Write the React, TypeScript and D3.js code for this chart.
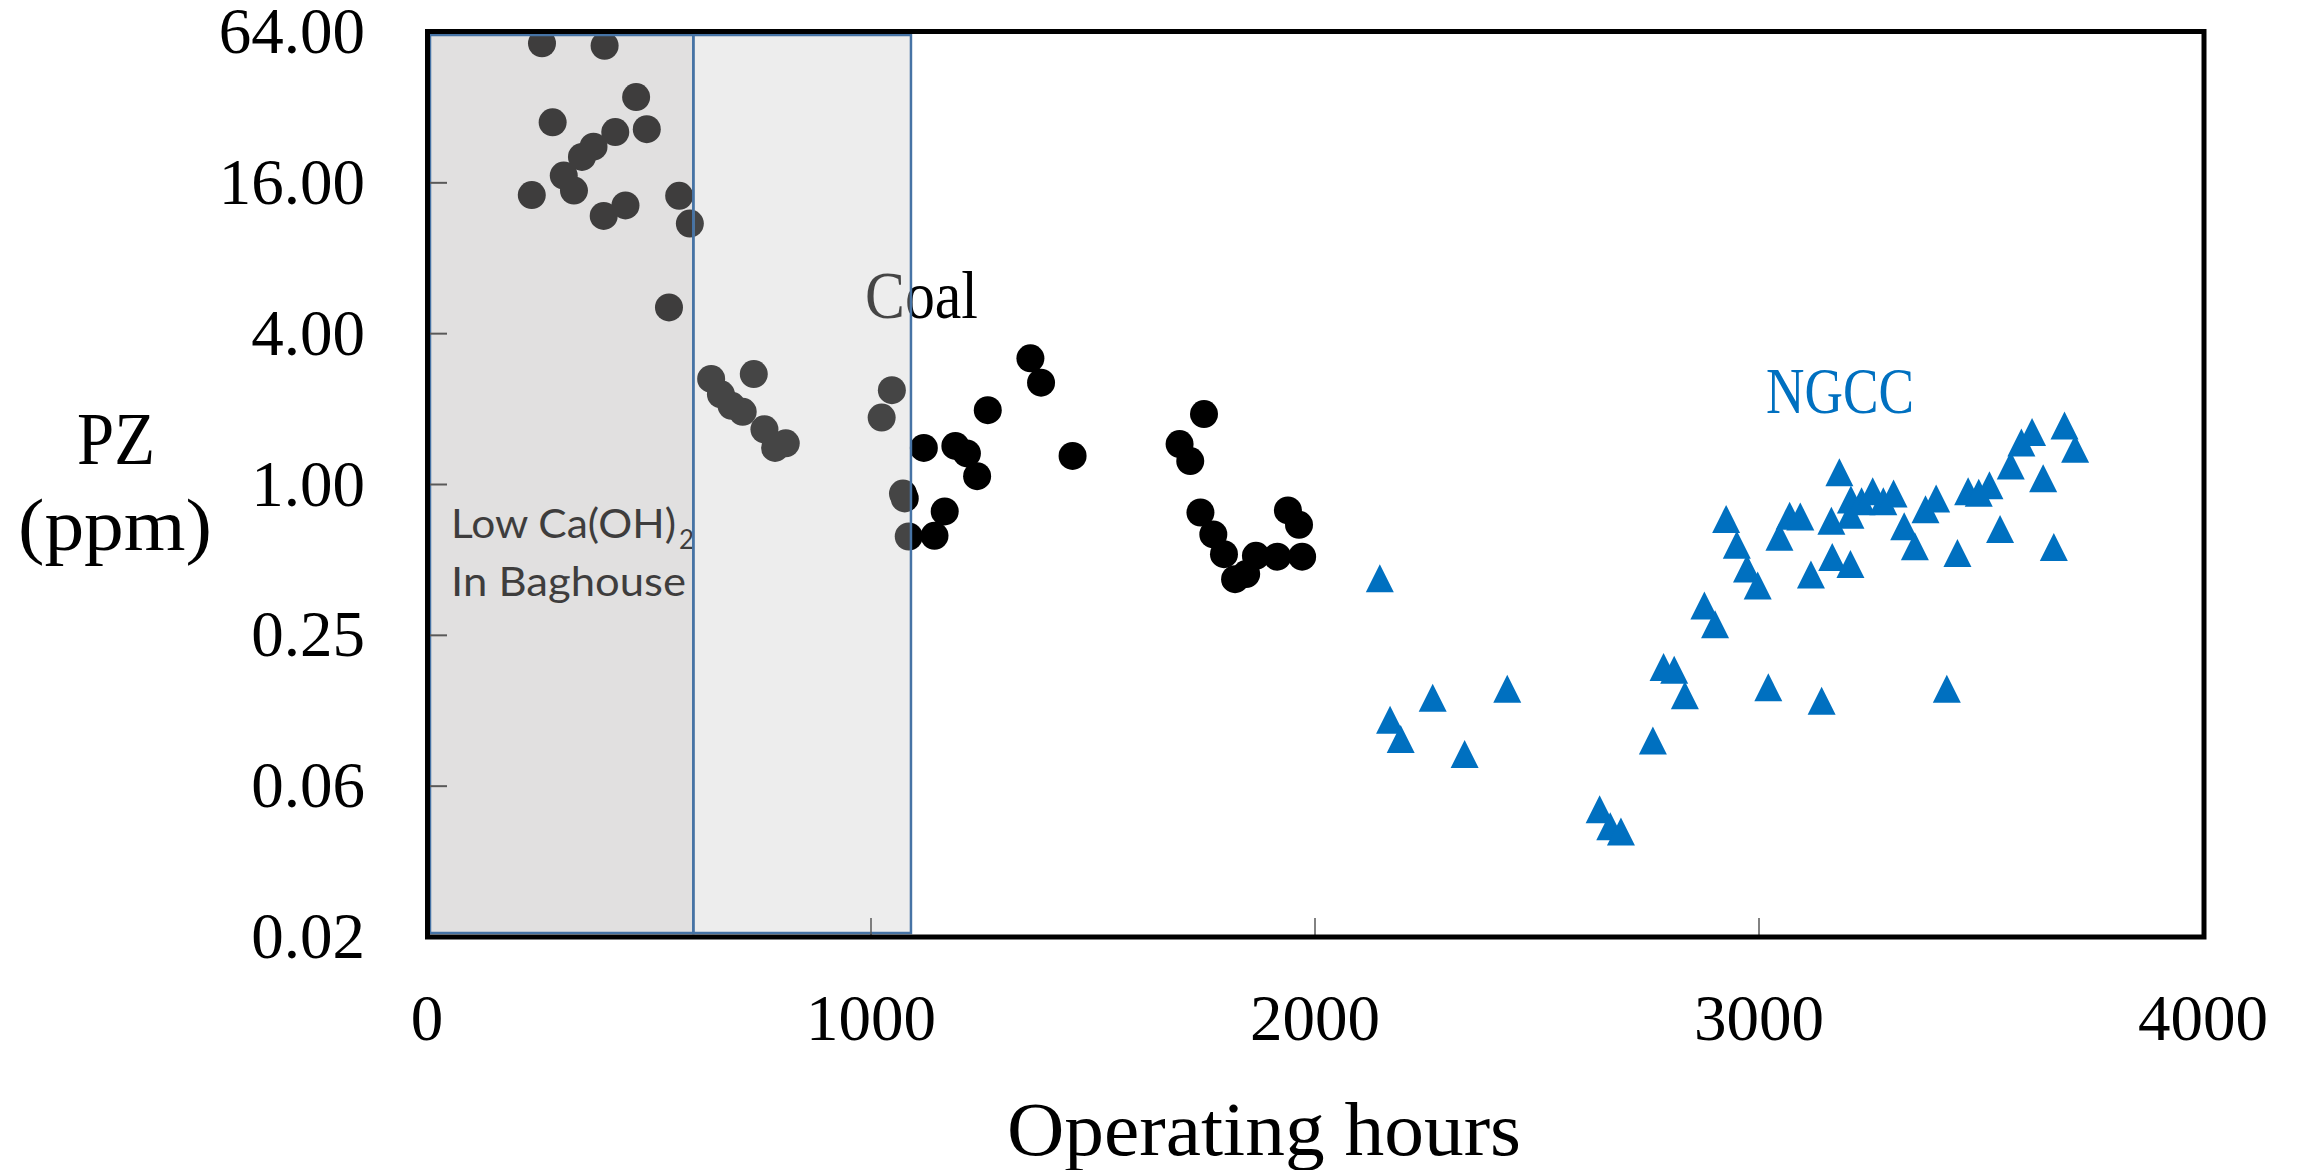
import React from "react";
import * as d3 from "d3";

// Piperazine (PZ) emissions, ppm, against cumulative operating hours
const coalHours = [
  236, 259, 283, 308, 331, 349, 375, 398, 400, 424, 447, 471, 495, 545, 568, 592,
  640, 662, 686, 711, 736, 760, 784, 808, 1024, 1047, 1072, 1076, 1085,
  1119, 1143, 1166, 1190, 1216, 1239, 1263, 1359, 1383, 1454,
  1695, 1719, 1742, 1750, 1771, 1795, 1820, 1845, 1867, 1915, 1939, 1964, 1971,
];
const coalPZ = [
  14.3, 57.7, 27.9, 17.1, 14.9, 20.3, 22.3, 11.8, 56.4, 25.5, 13.0, 35.2, 26.2, 5.09, 14.2, 11.0,
  2.64, 2.29, 2.06, 1.95, 2.76, 1.66, 1.40, 1.46, 1.85, 2.38, 0.92, 0.88, 0.62,
  1.40, 0.624, 0.781, 1.425, 1.33, 1.08, 1.98, 3.19, 2.55, 1.30,
  1.45, 1.24, 0.773, 1.91, 0.632, 0.527, 0.419, 0.439, 0.519, 0.515, 0.788, 0.69, 0.515,
];

const ngccHours = [
  2146, 2169, 2193, 2265, 2337, 2433, 2641, 2665, 2689, 2761, 2785, 2809, 2833, 2877, 2901,
  2926, 2950, 2973, 2997, 3021, 3046, 3069, 3093, 3117, 3141, 3163, 3165, 3181, 3206, 3206,
  3207, 3231, 3256, 3280, 3303, 3327, 3351, 3375, 3399, 3423, 3447, 3471, 3495, 3519, 3543,
  3567, 3591, 3615, 3640, 3664, 3688, 3712,
];
const ngccPZ = [
  0.422, 0.115, 0.0964, 0.141, 0.084, 0.153, 0.0505, 0.0432, 0.0412, 0.0952, 0.187, 0.182, 0.144, 0.329, 0.277,
  0.729, 0.575, 0.462, 0.395, 0.155, 0.618, 0.751, 0.746, 0.437, 0.137, 0.717, 0.514, 1.12, 0.758, 0.482,
  0.871, 0.858, 0.94, 0.858, 0.921, 0.681, 0.567, 0.796, 0.88, 0.153, 0.533, 0.94, 0.926, 0.994, 0.665,
  1.19, 1.47, 1.62, 1.06, 0.563, 1.72, 1.39,
];

// Shaded periods (hours): low Ca(OH)2 in baghouse, then transition
const bandStart = [0, 600];
const bandEnd = [600, 1090];
const bandFill = ["rgb(171,169,170)", "rgb(202,202,202)"];
const bandOpacity = [0.36, 0.34];

const xTicks = [0, 1000, 2000, 3000, 4000];
const xTickLabels = ["0", "1000", "2000", "3000", "4000"];
const yTicks = [64, 16, 4, 1, 0.25, 0.0625, 0.015625];
const yTickLabels = ["64.00", "16.00", "4.00", "1.00", "0.25", "0.06", "0.02"];

const W = 2302;
const H = 1170;
const left = 427;
const right = 2203;
const top = 32;
const bottom = 937;

const serif = "'Liberation Serif', 'Times New Roman', serif";
const sans = "Lato, 'Open Sans', sans-serif";

export default function App() {
  const x = d3.scaleLinear().domain([0, 4000]).range([left, right]);
  const y = d3.scaleLog().base(2).domain([1 / 64, 64]).range([bottom, top]);

  const tri = "M0,-14L14,14L-14,14Z";

  return (
    <svg
      width={W}
      height={H}
      viewBox={`0 0 ${W} ${H}`}
      style={{ position: "absolute", left: 0, top: 0, display: "block" }}
    >
      <rect x={0} y={0} width={W} height={H} fill="#ffffff" />

      {/* coal data */}
      <g>
        {coalHours.map((h, i) => (
          <circle key={`c${i}`} cx={x(h)} cy={y(coalPZ[i])} r={14} fill="#000000" />
        ))}
      </g>

      {/* NGCC data */}
      <g>
        {ngccHours.map((h, i) => (
          <path
            key={`n${i}`}
            d={tri}
            transform={`translate(${x(h)},${y(ngccPZ[i])})`}
            fill="#0070C0"
          />
        ))}
      </g>

      <text x={865} y={318} fontFamily={serif} fontSize={67} fill="#000" textLength={113} lengthAdjust="spacingAndGlyphs">
        Coal
      </text>

      <text x={451} y={538} fontFamily={sans} fontSize={40} fill="#000" textLength={225} lengthAdjust="spacingAndGlyphs">
        Low Ca(OH)
      </text>
      <text x={679} y={549} fontFamily={sans} fontSize={26} fill="#000">
        2
      </text>
      <text x={451} y={596} fontFamily={sans} fontSize={40} fill="#000" textLength={235} lengthAdjust="spacingAndGlyphs">
        In Baghouse
      </text>

      {/* translucent period overlays */}
      {bandStart.map((b, i) => {
        const x0 = Math.max(x(b), left + 3);
        const x1 = x(bandEnd[i]);
        return (
          <rect
            key={`b${i}`}
            x={x0}
            y={top + 3}
            width={x1 - x0}
            height={bottom - 4 - (top + 3)}
            fill={bandFill[i]}
            fillOpacity={bandOpacity[i]}
            stroke="#4673A5"
            strokeWidth={2.5}
          />
        );
      })}

      {/* ticks */}
      {yTicks.slice(1, -1).map((t) => (
        <line key={`yt${t}`} x1={left + 3} x2={left + 20} y1={y(t)} y2={y(t)} stroke="#595959" strokeWidth={2} />
      ))}
      {xTicks.slice(1, -1).map((t) => (
        <line key={`xt${t}`} x1={x(t)} x2={x(t)} y1={bottom - 19} y2={bottom - 2} stroke="#595959" strokeWidth={1.5} />
      ))}

      {/* plot frame */}
      <rect
        x={left + 0.5}
        y={top - 0.5}
        width={right - left + 0.5}
        height={bottom - top + 0.5}
        fill="none"
        stroke="#000"
        strokeWidth={5}
      />

      {/* tick labels */}
      {yTicks.map((t, i) => (
        <text
          key={`yl${t}`}
          x={365}
          y={y(t) + 21}
          textAnchor="end"
          fontFamily={serif}
          fontSize={65}
          fill="#000"
        >
          {yTickLabels[i]}
        </text>
      ))}
      {xTicks.map((t, i) => (
        <text
          key={`xl${t}`}
          x={x(t)}
          y={1040}
          textAnchor="middle"
          fontFamily={serif}
          fontSize={65}
          fill="#000"
        >
          {xTickLabels[i]}
        </text>
      ))}

      {/* axis titles */}
      <text x={116} y={464} textAnchor="middle" fontFamily={serif} fontSize={75} fill="#000" textLength={78} lengthAdjust="spacingAndGlyphs">
        PZ
      </text>
      <text x={115} y={550} textAnchor="middle" fontFamily={serif} fontSize={75} fill="#000" textLength={194} lengthAdjust="spacingAndGlyphs">
        (ppm)
      </text>
      <text x={1007} y={1155} fontFamily={serif} fontSize={76} fill="#000" textLength={514} lengthAdjust="spacingAndGlyphs">
        Operating hours
      </text>

      <text x={1766} y={413} fontFamily={serif} fontSize={65} fill="#0070C0" textLength={148} lengthAdjust="spacingAndGlyphs">
        NGCC
      </text>
    </svg>
  );
}
